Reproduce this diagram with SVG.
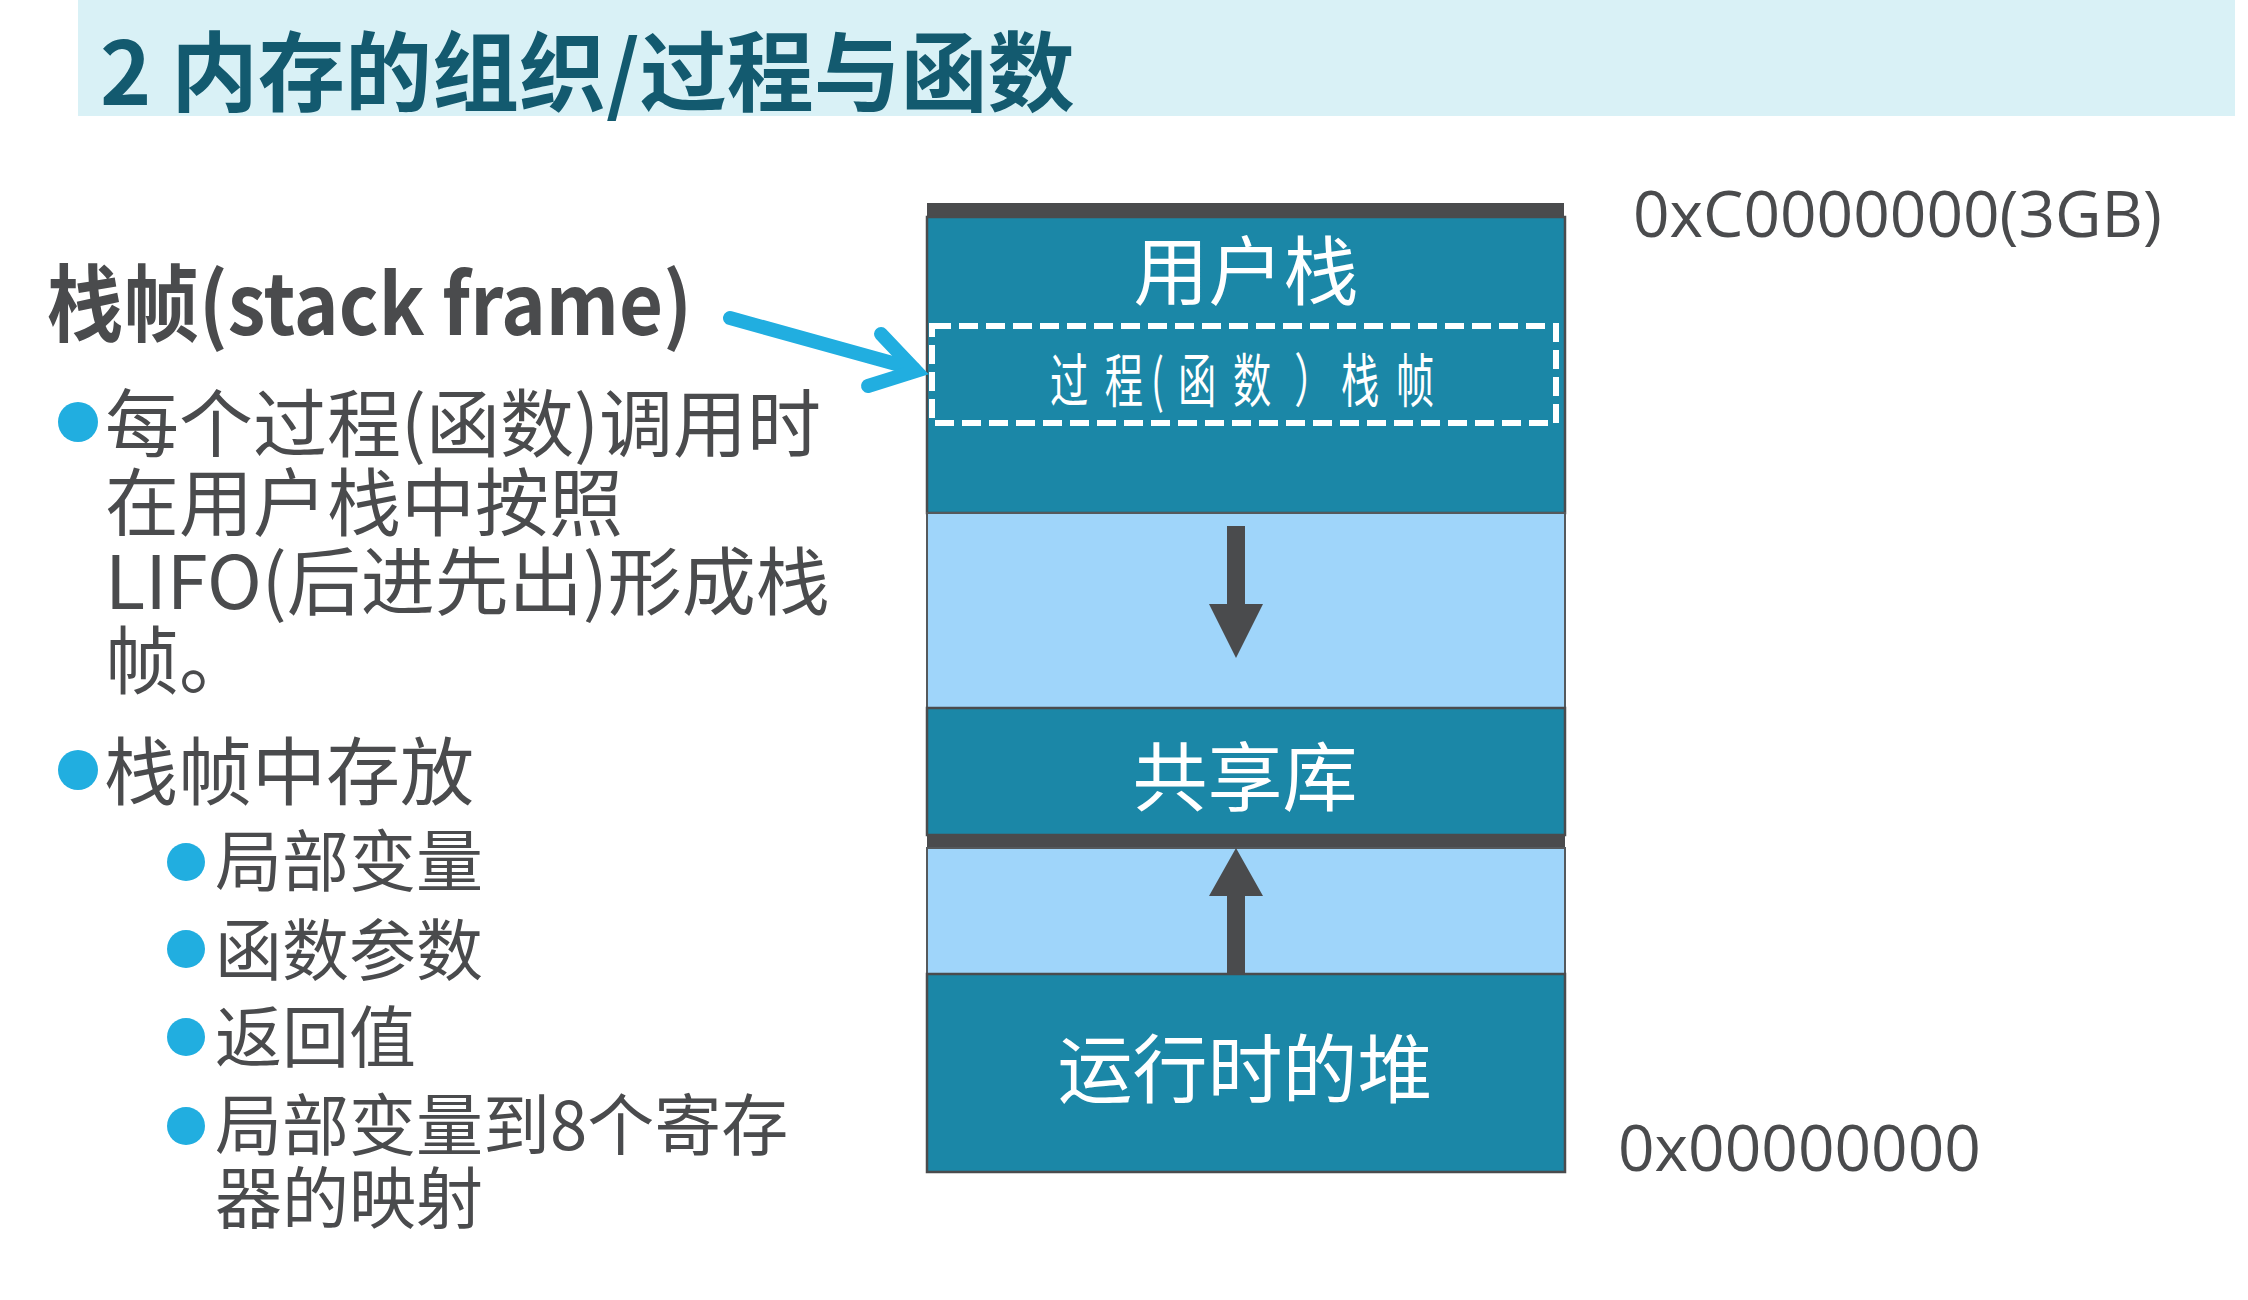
<svg xmlns="http://www.w3.org/2000/svg" width="2248" height="1300" viewBox="0 0 2248 1300">
<style>
.cjk{font-family:"Noto Sans CJK SC","Noto Sans",sans-serif;}
.body{font-family:"Noto Sans CJK SC","Noto Sans",sans-serif;fill:#4a4b4d;}
.addr{font-family:"Open Sans","Noto Sans",sans-serif;fill:#4a4b4d;font-size:64px;}
.teal{fill:#1b87a7;stroke:#4a4b4d;stroke-width:2.5;}
.free{fill:#9fd5fa;stroke:#55595c;stroke-width:2;}
.bar{fill:#4a4b4d;}
.lbl{font-family:"Noto Sans CJK SC","Noto Sans",sans-serif;fill:#ffffff;font-size:75px;text-anchor:middle;}
.dot{fill:#21aee0;}
.garrow{fill:#4a4b4d;}
</style>
<rect id="banner" x="78" y="0" width="2157" height="116" fill="#d9f1f6"/>
<text id="title" class="cjk" x="100" y="105" font-size="87" font-weight="bold" fill="#135a6f">2 内存的组织/过程与函数</text>

<g id="heading">
<text class="body" x="47" y="335" font-size="84" font-weight="bold" textLength="645" lengthAdjust="spacingAndGlyphs">栈帧(stack frame)</text>
</g>

<g id="bullets">
<circle class="dot" cx="78" cy="422" r="20"/>
<text class="body" font-size="74"><tspan x="105" y="451">每个过程(函数)调用时</tspan><tspan x="105" y="530">在用户栈中按照</tspan><tspan x="105" y="609">LIFO(后进先出)形成栈</tspan><tspan x="105" y="688">帧。</tspan></text>
<circle class="dot" cx="78" cy="770" r="20"/>
<text class="body" x="104" y="799" font-size="74">栈帧中存放</text>
<circle class="dot" cx="186" cy="862" r="19"/>
<text class="body" x="215" y="886" font-size="67">局部变量</text>
<circle class="dot" cx="186" cy="949" r="19"/>
<text class="body" x="215" y="975" font-size="67">函数参数</text>
<circle class="dot" cx="186" cy="1037" r="19"/>
<text class="body" x="215" y="1062" font-size="67">返回值</text>
<circle class="dot" cx="186" cy="1126" r="19"/>
<text class="body" font-size="67"><tspan x="215" y="1150">局部变量到8个寄存</tspan><tspan x="215" y="1223">器的映射</tspan></text>
</g>

<g id="user-stack">
<rect class="bar" x="927" y="203" width="637" height="14"/>
<rect class="teal" x="927" y="217" width="638" height="296"/>
<text class="lbl" x="1246" y="299">用户栈</text>
</g>

<g id="stack-frame">
<rect x="932" y="326" width="624" height="97" fill="none" stroke="#ffffff" stroke-width="6" stroke-dasharray="19 8"/>
<text class="cjk" transform="scale(0.66,1)" x="1591 1674 1744 1785 1868 1961 2032 2115" y="402" font-size="58" fill="#ffffff">过程(函数）栈帧</text>
</g>

<g id="free-down">
<rect class="free" x="927" y="513" width="638" height="195"/>
</g>

<g id="shared-lib">
<rect class="teal" x="927" y="708" width="638" height="127"/>
<text class="lbl" x="1245" y="805">共享库</text>
</g>

<g id="free-up">
<rect class="bar" x="927" y="835" width="638" height="13"/>
<rect class="free" x="927" y="848" width="638" height="126"/>
</g>

<g id="heap">
<rect class="teal" x="927" y="974" width="638" height="198"/>
<text class="lbl" x="1245" y="1097" font-size="74">运行时的堆</text>
</g>

<g id="addr-top"><text class="addr" x="1633" y="237">0xC0000000(3GB)</text></g>
<g id="addr-bottom"><text class="addr" x="1618" y="1171">0x00000000</text></g>

<g id="connectors">
<rect class="garrow" x="1227" y="526" width="18" height="80"/>
<polygon class="garrow" points="1209,604 1263,604 1236,658"/>
<polygon class="garrow" points="1236,848 1209,896 1263,896"/>
<rect class="garrow" x="1227" y="894" width="18" height="80"/>
<g fill="none" stroke="#21aee0" stroke-width="14" stroke-linecap="round">
<line x1="730" y1="318" x2="914" y2="369"/>
<polyline points="881,334 916,371 868,386" stroke-linejoin="miter" stroke-miterlimit="4"/>
</g>
</g>
</svg>
